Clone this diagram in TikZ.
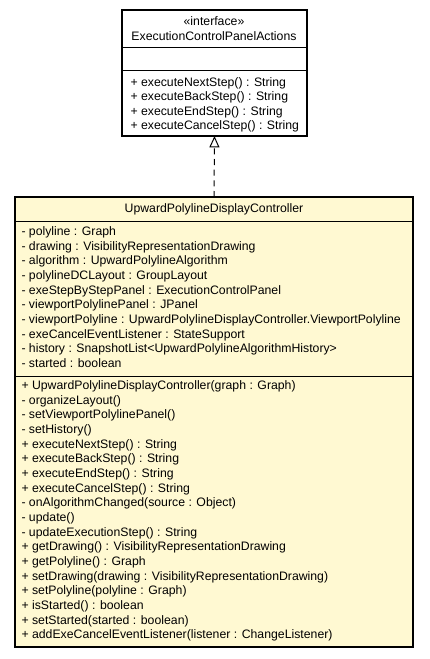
\documentclass[tikz,border=0pt]{standalone}
\usepackage{xcolor}
\usepackage{tikz}
\usepackage{fontspec}
\setmainfont{Liberation Sans}
\usetikzlibrary{arrows.meta}
\definecolor{classyellow}{HTML}{FFF9D2}

\begin{document}
\begin{tikzpicture}[x=0.75pt,y=-0.75pt,line width=0.75pt,
	box/.style={draw,line width=0.9pt,inner sep=0pt,outer sep=0pt,anchor=north west},
	members/.style={inner sep=0pt,anchor=north west,align=left,font=\fontsize{9.2}{11}\selectfont},
	title/.style={inner sep=0pt,align=center,font=\fontsize{9.2}{11}\selectfont}]
	\useasboundingbox (0,0) rectangle (429,659);
	% interface
	\node[box,fill=white,minimum width=138.75pt,minimum height=94.5pt] (1) at (122,10) {};
	\draw (1.west |- 0,48) -- (1.east |- 0,48);
	\draw (1.west |- 0,71) -- (1.east |- 0,71);
	\node[title] at (214,21) (11) {«interface»};
	\node[title] at (214,36) (12) {ExecutionControlPanelActions};
	\node[members,font=\fontsize{9.2}{10.8}\selectfont] at (130,77) (13) {+ executeNextStep() : String\\
		+ executeBackStep() : String\\
		+ executeEndStep() : String\\
		+ executeCancelStep() : String};
	% implementing class
	\node[box,fill=classyellow,minimum width=298.5pt,minimum height=337.5pt] (2) at (15,197) {};
	\draw (2.west |- 0,221) -- (2.east |- 0,221);
	\draw (2.west |- 0,376) -- (2.east |- 0,376);
	\node[title] at (214,209) (21) {UpwardPolylineDisplayController};
	\node[members] at (21,226) (22) {- polyline : Graph\\
		- drawing : VisibilityRepresentationDrawing\\
		- algorithm : UpwardPolylineAlgorithm\\
		- polylineDCLayout : GroupLayout\\
		- exeStepByStepPanel : ExecutionControlPanel\\
		- viewportPolylinePanel : JPanel\\
		- viewportPolyline : UpwardPolylineDisplayController.ViewportPolyline\\
		- exeCancelEventListener : StateSupport\\
		- history : SnapshotList<UpwardPolylineAlgorithmHistory>\\
		- started : boolean};
	\node[members] at (21,380) (23) {+ UpwardPolylineDisplayController(graph : Graph)\\
		- organizeLayout()\\
		- setViewportPolylinePanel()\\
		- setHistory()\\
		+ executeNextStep() : String\\
		+ executeBackStep() : String\\
		+ executeEndStep() : String\\
		+ executeCancelStep() : String\\
		- onAlgorithmChanged(source : Object)\\
		- update()\\
		- updateExecutionStep() : String\\
		+ getDrawing() : VisibilityRepresentationDrawing\\
		+ getPolyline() : Graph\\
		+ setDrawing(drawing : VisibilityRepresentationDrawing)\\
		+ setPolyline(polyline : Graph)\\
		+ isStarted() : boolean\\
		+ setStarted(started : boolean)\\
		+ addExeCancelEventListener(listener : ChangeListener)};
	\draw [dash pattern=on 4.5pt off 3.5pt,-{Triangle[open,length=8.5pt,width=7.5pt]}] (2.north) -- (1.south);
\end{tikzpicture}
\end{document}
